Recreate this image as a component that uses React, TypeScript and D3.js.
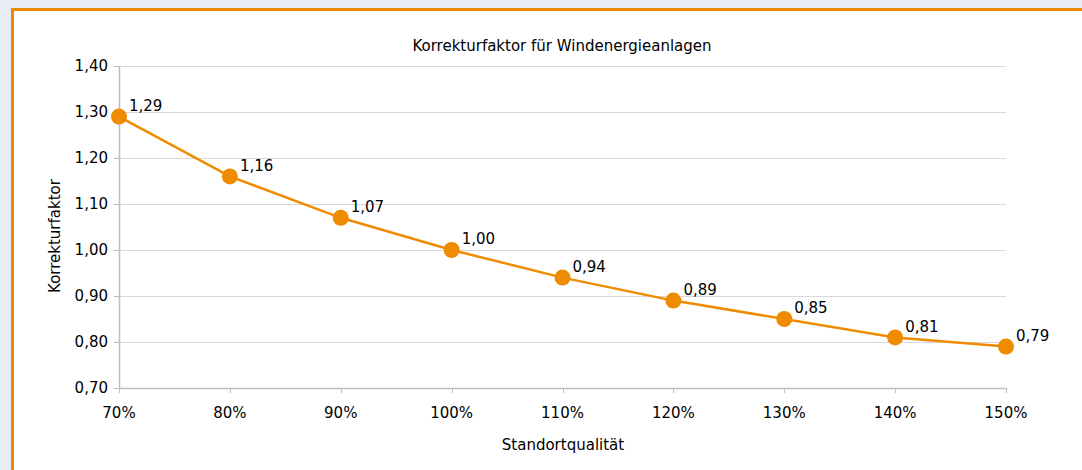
import React from "react";
import * as d3 from "d3";

const categories = ["70%", "80%", "90%", "100%", "110%", "120%", "130%", "140%", "150%"];
const values = [1.29, 1.16, 1.07, 1.0, 0.94, 0.89, 0.85, 0.81, 0.79];
const yTicks = [0.7, 0.8, 0.9, 1.0, 1.1, 1.2, 1.3, 1.4];
const title = "Korrekturfaktor für Windenergieanlagen";
const xTitle = "Standortqualität";
const yTitle = "Korrekturfaktor";

const W = 1082;
const H = 470;
const FONT = "Tahoma, 'DejaVu Sans', Verdana, sans-serif";
const FS = 15;
const ORANGE = "#EF8B00";

export default function App() {
  const x = d3.scalePoint<string>().domain(categories).range([119, 1006]);
  const y = d3.scaleLinear().domain([0.7, 1.4]).range([388, 66]);
  const fmt = (v: number) => v.toFixed(2).replace(".", ",");
  const line = d3
    .line<number>()
    .x((_, i) => x(categories[i]) as number)
    .y((d) => y(d));

  return (
    <svg
      width={W}
      height={H}
      style={{ position: "absolute", left: 0, top: 0, display: "block" }}
      fontFamily={FONT}
    >
      <rect x={0} y={0} width={W} height={H} fill="#E8ECF4" />
      <rect x={12.5} y={9.5} width={W} height={H} fill="#FFFFFF" stroke={ORANGE} strokeWidth={3} />
      {yTicks.map((t) => (
        <line key={"g" + t} x1={119} x2={1006} y1={Math.round(y(t)) + 0.5} y2={Math.round(y(t)) + 0.5} stroke="#D9D9D9" strokeWidth={1} />
      ))}
      <line x1={119.5} x2={119.5} y1={66} y2={388} stroke="#BFBFBF" strokeWidth={1.5} />
      {yTicks.map((t) => (
        <g key={"yt" + t}>
          <line x1={114} x2={119} y1={Math.round(y(t)) + 0.5} y2={Math.round(y(t)) + 0.5} stroke="#BFBFBF" />
          <text x={108} y={y(t)} dy="0.35em" textAnchor="end" fontSize={FS} fill="#000">
            {fmt(t)}
          </text>
        </g>
      ))}
      <line x1={119} x2={1006} y1={388.5} y2={388.5} stroke="#BFBFBF" strokeWidth={1.5} />
      {categories.map((c) => (
        <g key={"xt" + c}>
          <line x1={Math.round(x(c) as number) + 0.5} x2={Math.round(x(c) as number) + 0.5} y1={388} y2={393} stroke="#BFBFBF" />
          <text x={x(c) as number} y={413} dy="0.35em" textAnchor="middle" fontSize={FS} fill="#000">
            {c}
          </text>
        </g>
      ))}
      <path d={line(values) || ""} fill="none" stroke={ORANGE} strokeWidth={2.5} />
      {values.map((v, i) => (
        <circle key={"p" + i} cx={x(categories[i]) as number} cy={y(v)} r={8} fill={ORANGE} />
      ))}
      {values.map((v, i) => (
        <text
          key={"l" + i}
          x={(x(categories[i]) as number) + 10}
          y={y(v) - 11}
          dy="0.35em"
          fontSize={FS}
          fill="#000"
        >
          {fmt(v)}
        </text>
      ))}
      <text x={562} y={46} dy="0.35em" textAnchor="middle" fontSize={FS} fill="#000">
        {title}
      </text>
      <text x={563} y={445} dy="0.35em" textAnchor="middle" fontSize={FS} fill="#000">
        {xTitle}
      </text>
      <text
        transform={`translate(55,236) rotate(-90)`}
        dy="0.35em"
        textAnchor="middle"
        fontSize={FS}
        fill="#000"
      >
        {yTitle}
      </text>
    </svg>
  );
}
